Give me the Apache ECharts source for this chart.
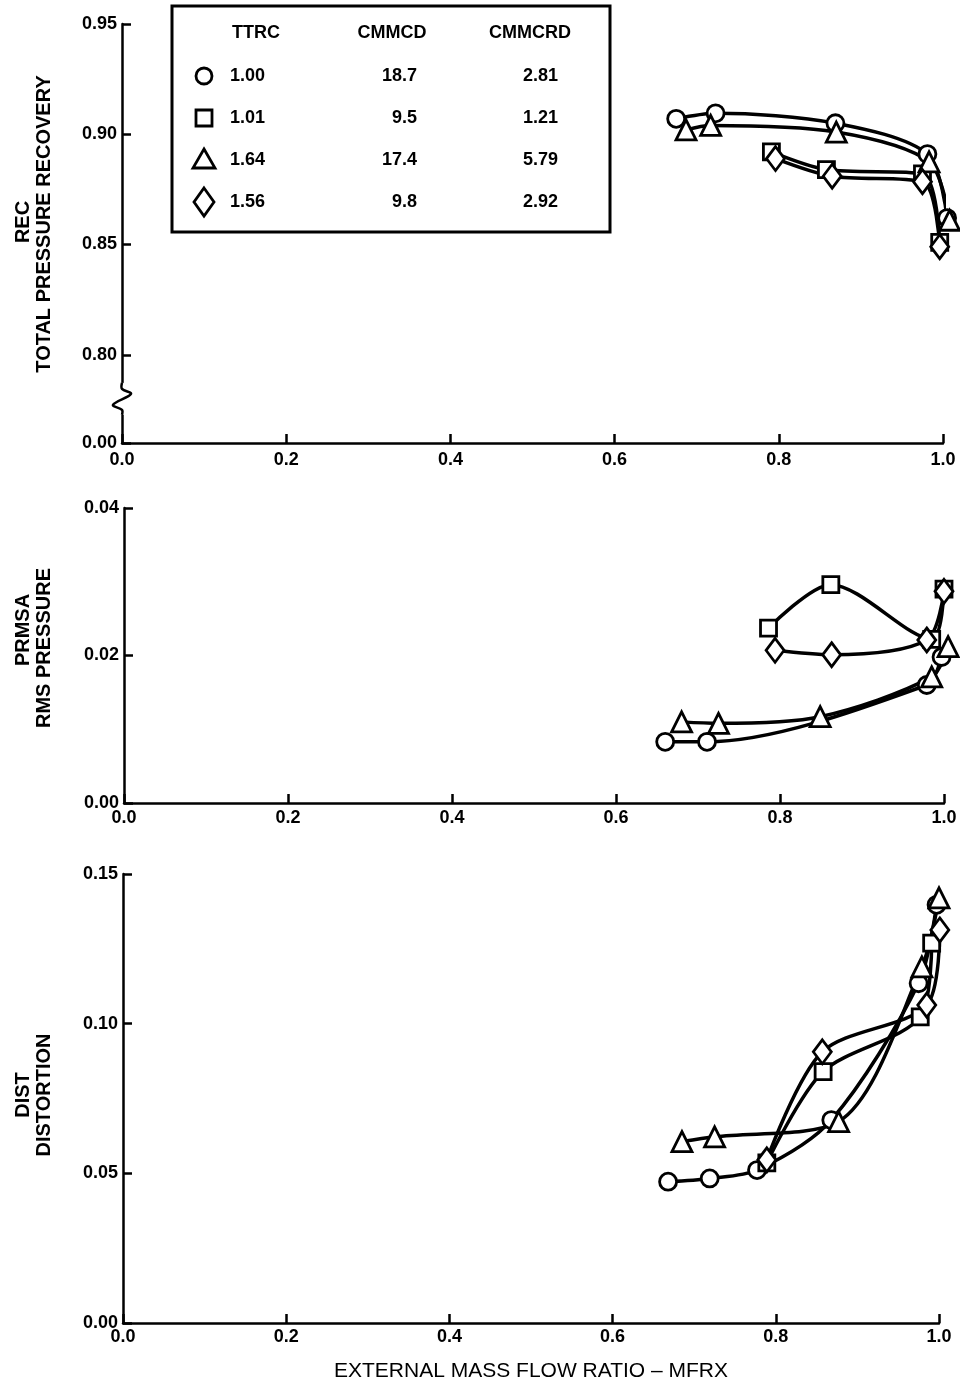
<!DOCTYPE html>
<html><head><meta charset="utf-8">
<script src="https://cdn.jsdelivr.net/npm/echarts@6/dist/echarts.min.js"></script>
<style>html,body{margin:0;padding:0;background:#fff}#c{width:960px;height:1387px}</style>
</head><body><div id="c"></div>
<script>
// ---- tick values / labels ----
const xTicks = [0, 0.2, 0.4, 0.6, 0.8, 1.0];
const xTickLabels = ['0.0', '0.2', '0.4', '0.6', '0.8', '1.0'];
const recTicks = [0.76, 0.80, 0.85, 0.90, 0.95];
const recTickLabels = ['0.00', '0.80', '0.85', '0.90', '0.95'];
const prmsaTicks = [0, 0.02, 0.04];
const prmsaTickLabels = ['0.00', '0.02', '0.04'];
const distTicks = [0, 0.05, 0.10, 0.15];
const distTickLabels = ['0.00', '0.05', '0.10', '0.15'];

// ---- legend table ----
const legendHeaders = ['TTRC', 'CMMCD', 'CMMCRD'];
const legendTTRC = ['1.00', '1.01', '1.64', '1.56'];
const legendCMMCD = ['18.7', '9.5', '17.4', '9.8'];
const legendCMMCRD = ['2.81', '1.21', '5.79', '2.92'];

// ---- data: [MFRX, value] ----
const recCircle   = [[0.675,0.9070],[0.723,0.9095],[0.869,0.9050],[0.981,0.8910],[1.005,0.8620]];
const recSquare   = [[0.791,0.8920],[0.858,0.8840],[0.975,0.8820],[0.996,0.8510]];
const recTriangle = [[0.687,0.9020],[0.717,0.9040],[0.870,0.9010],[0.983,0.8875],[1.008,0.8610]];
const recDiamond  = [[0.796,0.8890],[0.865,0.8810],[0.975,0.8785],[0.996,0.8490]];

const prmsaCircle   = [[0.660,0.0083],[0.711,0.0083],[0.979,0.0160],[0.997,0.0198]];
const prmsaSquare   = [[0.786,0.0237],[0.862,0.0296],[0.985,0.0222],[1.000,0.0290]];
const prmsaTriangle = [[0.680,0.0110],[0.725,0.0108],[0.849,0.0117],[0.985,0.0171],[1.005,0.0212]];
const prmsaDiamond  = [[0.794,0.0207],[0.863,0.0201],[0.979,0.0221],[1.000,0.0287]];

const distCircle   = [[0.668,0.0472],[0.719,0.0483],[0.777,0.0511],[0.868,0.0678],[0.975,0.1135],[0.997,0.1397]];
const distSquare   = [[0.789,0.0535],[0.858,0.0840],[0.977,0.1023],[0.991,0.1269]];
const distTriangle = [[0.685,0.0606],[0.725,0.0622],[0.877,0.0673],[0.979,0.1190],[1.000,0.1420]];
const distDiamond  = [[0.789,0.0545],[0.857,0.0906],[0.985,0.1062],[1.001,0.1313]];

const FONT = "'Liberation Sans', Arial, sans-serif";
const chart = echarts.init(document.getElementById('c'), null, {renderer: 'canvas'});

function lookup(ticks, labels) {
  return function (v) {
    for (let i = 0; i < ticks.length; i++) if (Math.abs(ticks[i] - v) < 1e-6) return labels[i];
    return '';
  };
}
const axisLineStyle = {color: '#000', width: 2.5};
function mkX(gi, margin) {
  return {
    type: 'value', gridIndex: gi, min: 0, max: 1, interval: 0.2,
    axisLine: {show: true, lineStyle: axisLineStyle},
    axisTick: {show: true, inside: true, length: 9, lineStyle: {color: '#000', width: 2.5}},
    axisLabel: {color: '#000', fontFamily: FONT, fontWeight: 'bold', fontSize: 18, margin: margin,
      formatter: lookup(xTicks, xTickLabels)},
    splitLine: {show: false}
  };
}
function mkY(gi, min, max, ticks, labels) {
  return {
    type: 'value', gridIndex: gi, min: min, max: max,
    axisLine: {show: true, lineStyle: axisLineStyle},
    axisTick: {show: true, inside: true, length: 9, customValues: ticks, lineStyle: {color: '#000', width: 2.5}},
    axisLabel: {color: '#000', fontFamily: FONT, fontWeight: 'bold', fontSize: 18, margin: 5,
      customValues: ticks, formatter: lookup(ticks, labels)},
    splitLine: {show: false}
  };
}
const symbolDefs = [
  {symbol: 'circle', size: 17},
  {symbol: 'rect', size: 16},
  {symbol: 'triangle', size: 20},
  {symbol: 'diamond', size: [18, 24]}
];
function mkSeries(name, data, k, gi) {
  return {
    type: 'line', name: name, data: data, xAxisIndex: gi, yAxisIndex: gi,
    smooth: 0.3, clip: false,
    symbol: symbolDefs[k].symbol, symbolSize: symbolDefs[k].size, showSymbol: true,
    lineStyle: {color: '#000', width: 3.5},
    itemStyle: {color: '#fff', borderColor: '#000', borderWidth: 2.8},
    emphasis: {disabled: true}, animation: false
  };
}
const names = legendTTRC.map(t => 'TTRC ' + t);
const series = [];
[[recCircle, recSquare, recTriangle, recDiamond],
 [prmsaCircle, prmsaSquare, prmsaTriangle, prmsaDiamond],
 [distCircle, distSquare, distTriangle, distDiamond]].forEach((set, gi) => {
  set.forEach((d, k) => series.push(mkSeries(names[k], d, k, gi)));
});

// legend table graphic
const g = [];
g.push({type: 'rect', shape: {x: 172, y: 6, width: 438, height: 226},
  style: {fill: '#fff', stroke: '#000', lineWidth: 3}, z: 10});
const headX = [256, 392, 530];
const LF = 'bold 18px ' + FONT;
legendHeaders.forEach((h, i) => g.push({type: 'text', x: headX[i], y: 33, z: 11,
  style: {text: h, fill: '#000', font: LF, textAlign: 'center', textVerticalAlign: 'middle'}}));
const rowY = [76, 118, 160, 202];
const symX = 204;
rowY.forEach((y, i) => {
  if (i === 0) g.push({type: 'circle', shape: {cx: symX, cy: y, r: 8}, z: 11, style: {fill: '#fff', stroke: '#000', lineWidth: 2.8}});
  if (i === 1) g.push({type: 'rect', shape: {x: symX - 8, y: y - 8, width: 16, height: 16}, z: 11, style: {fill: '#fff', stroke: '#000', lineWidth: 2.8}});
  if (i === 2) g.push({type: 'polygon', shape: {points: [[symX, y - 11], [symX + 11, y + 8], [symX - 11, y + 8]]}, z: 11, style: {fill: '#fff', stroke: '#000', lineWidth: 2.8}});
  if (i === 3) g.push({type: 'polygon', shape: {points: [[symX, y - 14], [symX + 10, y], [symX, y + 14], [symX - 10, y]]}, z: 11, style: {fill: '#fff', stroke: '#000', lineWidth: 2.8}});
  g.push({type: 'text', x: 230, y: y, z: 11, style: {text: legendTTRC[i], fill: '#000', font: LF, textAlign: 'left', textVerticalAlign: 'middle'}});
  g.push({type: 'text', x: 417, y: y, z: 11, style: {text: legendCMMCD[i], fill: '#000', font: LF, textAlign: 'right', textVerticalAlign: 'middle'}});
  g.push({type: 'text', x: 558, y: y, z: 11, style: {text: legendCMMCRD[i], fill: '#000', font: LF, textAlign: 'right', textVerticalAlign: 'middle'}});
});
// y axis names (two lines each, rotated)
const yNames = [
  ['REC', 222, 'TOTAL PRESSURE RECOVERY', 224],
  ['PRMSA', 630, 'RMS PRESSURE', 648],
  ['DIST', 1095, 'DISTORTION', 1095]
];
yNames.forEach(n => {
  g.push({type: 'text', x: 23, y: n[1], rotation: Math.PI / 2, z: 11,
    style: {text: n[0], fill: '#000', font: 'bold 20px ' + FONT, textAlign: 'center', textVerticalAlign: 'middle'}});
  g.push({type: 'text', x: 44, y: n[3], rotation: Math.PI / 2, z: 11,
    style: {text: n[2], fill: '#000', font: 'bold 20px ' + FONT, textAlign: 'center', textVerticalAlign: 'middle'}});
});

const option = {
  backgroundColor: '#fff',
  animation: false,
  grid: [
    {left: 122, right: 17, top: 24, height: 419},
    {left: 124, right: 16, top: 508, height: 295},
    {left: 123, right: 21, top: 874, height: 449}
  ],
  xAxis: [mkX(0, 8), mkX(1, 6), Object.assign(mkX(2, 5), {
    name: 'EXTERNAL MASS FLOW RATIO – MFRX', nameLocation: 'middle', nameGap: 38,
    nameTextStyle: {color: '#000', fontFamily: FONT, fontSize: 21, fontWeight: 'normal'}
  })],
  yAxis: [
    mkY(0, 0.76, 0.95, recTicks, recTickLabels),
    mkY(1, 0, 0.04, prmsaTicks, prmsaTickLabels),
    mkY(2, 0, 0.15, distTicks, distTickLabels)
  ],
  series: series,
  graphic: g
};
chart.setOption(option);

// axis break symbol on the REC axis (between 0.00 and 0.80)
const bx = chart.convertToPixel({xAxisIndex: 0}, 0);
const by = chart.convertToPixel({yAxisIndex: 0}, 0.78);
g.push({type: 'rect', shape: {x: bx - 12, y: by - 16, width: 24, height: 32}, z: 12, style: {fill: '#fff'}});
g.push({type: 'polyline', z: 13, shape: {smooth: 0.35, points: [
  [bx, by - 16], [bx, by - 10], [bx + 9, by - 5], [bx - 9, by + 6], [bx, by + 11], [bx, by + 16]]},
  style: {stroke: '#000', lineWidth: 2.5, fill: null}});
chart.setOption({graphic: g});
</script></body></html>
